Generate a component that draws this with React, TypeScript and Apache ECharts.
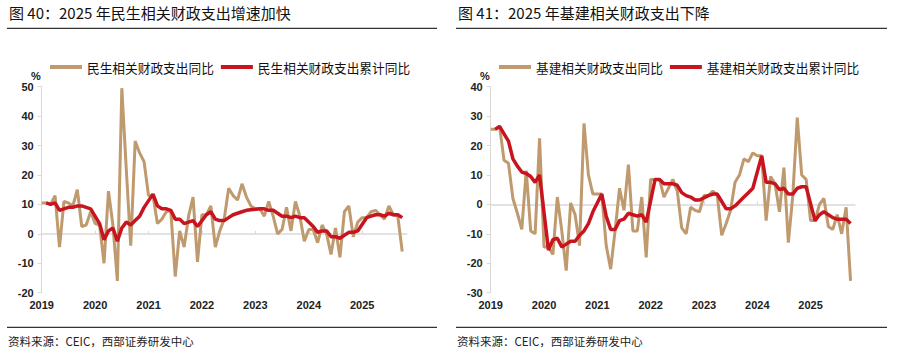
import React, { useEffect, useRef } from "react";
import * as echarts from "echarts";

// Monthly categories 2019-01 .. 2025-11
const firstYear = 2019;
const lastYear = 2025;
const lastMonthOfLastYear = 11;
const months: string[] = [];
for (let y = firstYear; y <= lastYear; y++) {
  for (let m = 1; m <= 12; m++) {
    if (y === lastYear && m > lastMonthOfLastYear) break;
    months.push(`${y}-${m < 10 ? "0" + m : m}`);
  }
}

// 民生相关财政支出同比 (monthly, %)
const livelihoodMonthly = [
  10.5, 10.5, 10, 13, -4.5, 11, 10.5, 9.5, 15, 2.5, 3, 7.5,
  3.5, 3, -10, 14.5, 3, -16, 49.5, 22, -4, 31.5, 27.5, 24.5,
  13, 13, 3.5, 5, 7.5, 8, -14.5, 1, -4.5, 6, 12.5, -9.5,
  6.5, 6.5, 9.5, -4.5, 1, 5, 15.5, 13, 11.5, 17, 12.5, 9.5,
  8.5, 8.5, 6, 11, 6, 0, 1.5, 9, 1, 11, 6, -2.5,
  1.5, 1.5, -3, 3, 0, -7, 2, -8, 7.5, 9.5, -1, 4,
  5.5, 5.5, 7.5, 8, 6.5, 5, 9.5, 6.5, 6, -6,
];
// 民生相关财政支出累计同比 (%)
const livelihoodCumulative = [
  null, 10.5, 10, 10.5, 8, 8.5, 9, 9, 9.5, 9.5, 9, 8.5,
  null, 3.5, -2, 1, 2, -2.5, 2, 4, 3, 4.5, 6, 9,
  null, 13.5, 9.5, 8.5, 8.5, 8, 5, 5, 3.5, 4, 4.5, 2.5,
  null, 6.5, 7.5, 5, 4.5, 4.5, 5.5, 6.5, 7, 7.5, 8, 8.2,
  null, 8.5, 8.5, 8, 8, 7, 6, 6, 5.5, 6, 5.5, 5.5,
  null, 2.5, 0.5, 1, 1, -1, -1, -1.5, -0.5, 0.5, 0.5, 1,
  null, 5.5, 6, 6.5, 6.5, 6, 7, 6.5, 6.5, 5.5,
];
// 基建相关财政支出同比 (monthly, %)
const infraMonthly = [
  25.5, 25.5, 26.5, 15, 14, 2, -3, -8.5, 11.5, -9, -10, 22.5,
  -14.5, -14.5, -17, 2.5, -9, -22.5, 0.5, -3.5, -14, 27.5, 10, 3.5,
  3.5, 3.5, -14, -22, -9, 5.5, -2, 13.5, -9, -9, 2.5, -18,
  8.5, 8.5, 8.5, 2.5, 5.5, 8.5, 4.5, -8, -10, -1, -2, -2.5,
  3, 3, 4.5, 3, -10.5, -6.5, -2, 7.5, 10, 15.5, 14.5, 17.5,
  16.5, 16.5, -5.5, 9.5, 7, -2.5, 12.5, -13, 3, 29.5, 10, 8.5,
  -5.5, -5.5, 0, 2, -7.5, -8.5, -3.5, -10, -1, -26,
];
// 基建相关财政支出累计同比 (%)
const infraCumulative = [
  null, 25.5, 26.5, 24, 21.5, 15.5, 13, 11, 10.5, 9.5, 7.5, 10,
  null, -15.5, -12, -11.5, -14.5, -13.5, -12.5, -12.5, -10.5, -9, -6.5, -2.5,
  null, 3.5, -4, -8.5, -8.5, -5.5, -5, -3, -3.5, -4, -3.5, -6,
  null, 8.5, 8.5, 7, 7, 7, 6.5, 4, 3, 2.5, 1.5, 1.5,
  null, 3, 3.5, 3.5, 1, -1.5, -1.5, -0.5, 1, 2.5, 4, 5.5,
  null, 16.5, 7.5, 7.5, 7, 5, 5.5, 3.5, 3.5, 5.5, 6, 6,
  null, -5.5, -3.5, -2.5, -3.5, -4.5, -5, -5, -5, -6.5,
];

const leftTicks = { min: -20, max: 50, interval: 10 };
const rightTicks = { min: -30, max: 40, interval: 10 };

const TAN = "#BF9A6E";
const RED = "#C8141E";
const FONT = "'Liberation Sans', 'Noto Sans CJK SC', sans-serif";
const CJK = "'Noto Sans CJK SC', 'Liberation Sans', sans-serif";

const isJan = (i: number) => i % 12 === 0;

function labelAxis(gridIndex: number) {
  return {
    type: "category",
    gridIndex,
    data: months,
    boundaryGap: false,
    axisLine: { show: false, onZero: false },
    axisTick: { show: false },
    splitLine: { show: false },
    axisLabel: {
      interval: (i: number) => isJan(i),
      formatter: (v: string) => v.slice(0, 4),
      fontFamily: FONT,
      fontSize: 11,
      fontWeight: "bold",
      color: "#222",
      margin: 7,
    },
  };
}
function zeroAxis(gridIndex: number) {
  return {
    type: "category",
    gridIndex,
    data: months,
    boundaryGap: false,
    axisLine: { show: true, onZero: true, lineStyle: { color: "#d9d9d9", width: 1.5 } },
    axisTick: { show: true, interval: (i: number) => isJan(i), length: 3, lineStyle: { color: "#d9d9d9" } },
    axisLabel: { show: false },
    splitLine: { show: false },
  };
}
function valueAxis(gridIndex: number, t: { min: number; max: number; interval: number }) {
  return {
    type: "value",
    gridIndex,
    min: t.min,
    max: t.max,
    interval: t.interval,
    axisLine: { show: true, lineStyle: { color: "#d9d9d9", width: 1 } },
    axisTick: { show: true, length: 4, lineStyle: { color: "#d9d9d9" } },
    splitLine: { show: false },
    axisLabel: { fontFamily: FONT, fontSize: 11, fontWeight: "bold", color: "#222", margin: 8 },
  };
}
function lineSeries(name: string, data: (number | null)[], color: string, width: number, x: number, y: number) {
  return {
    name,
    type: "line",
    xAxisIndex: x,
    yAxisIndex: y,
    data,
    showSymbol: false,
    symbol: "none",
    connectNulls: true,
    itemStyle: { color },
    lineStyle: { color, width },
    z: color === RED ? 3 : 2,
  };
}

const L1 = "民生相关财政支出同比";
const L2 = "民生相关财政支出累计同比";
const R1 = "基建相关财政支出同比";
const R2 = "基建相关财政支出累计同比";

function legend(left: number, names: string[]) {
  return {
    left,
    top: 55,
    icon: "rect",
    itemWidth: 32,
    itemHeight: 4,
    itemGap: 7,
    data: names,
    textStyle: { fontFamily: CJK, fontSize: 12.7, color: "#111", lineHeight: 14 },
  };
}

function panelGraphics(x0: number, x1: number, title: string) {
  return [
    { type: "text", left: x0 + 2, top: 5, style: { text: title, font: `15px ${CJK}`, fill: "#111" } },
    { type: "line", shape: { x1: x0, y1: 28.3, x2: x1, y2: 28.3 }, style: { stroke: "#000", lineWidth: 1 } },
    { type: "line", shape: { x1: x0, y1: 327.3, x2: x1, y2: 327.3 }, style: { stroke: "#000", lineWidth: 1 } },
    {
      type: "text",
      left: x0 + 1,
      top: 335,
      style: { text: "资料来源：CEIC，西部证券研发中心", font: `11.5px ${CJK}`, fill: "#222" },
    },
  ];
}

const option = {
  animation: false,
  backgroundColor: "#fff",
  grid: [
    { left: 41.7, top: 86.7, width: 365, height: 206 },
    { left: 490.7, top: 86.7, width: 364.3, height: 206 },
  ],
  legend: [legend(45, [L1, L2]), legend(494, [R1, R2])],
  xAxis: [labelAxis(0), zeroAxis(0), labelAxis(1), zeroAxis(1)],
  yAxis: [valueAxis(0, leftTicks), valueAxis(1, rightTicks)],
  series: [
    lineSeries(L1, livelihoodMonthly, TAN, 3, 0, 0),
    lineSeries(L2, livelihoodCumulative, RED, 3.5, 0, 0),
    lineSeries(R1, infraMonthly, TAN, 3, 2, 1),
    lineSeries(R2, infraCumulative, RED, 3.5, 2, 1),
  ],
  graphic: [
    ...panelGraphics(7, 437, "图 40：2025 年民生相关财政支出增速加快"),
    ...panelGraphics(456, 887, "图 41：2025 年基建相关财政支出下降"),
    { type: "text", left: 31, top: 70, style: { text: "%", font: `bold 11px ${FONT}`, fill: "#222" } },
    { type: "text", left: 480, top: 70, style: { text: "%", font: `bold 11px ${FONT}`, fill: "#222" } },
  ],
};

export default function App() {
  const ref = useRef<HTMLDivElement>(null);
  useEffect(() => {
    document.body.style.margin = "0";
    const chart = echarts.init(ref.current!, null, { renderer: "svg" });
    chart.setOption(option as any);
    return () => chart.dispose();
  }, []);
  return <div ref={ref} style={{ width: 903, height: 356 }} />;
}
